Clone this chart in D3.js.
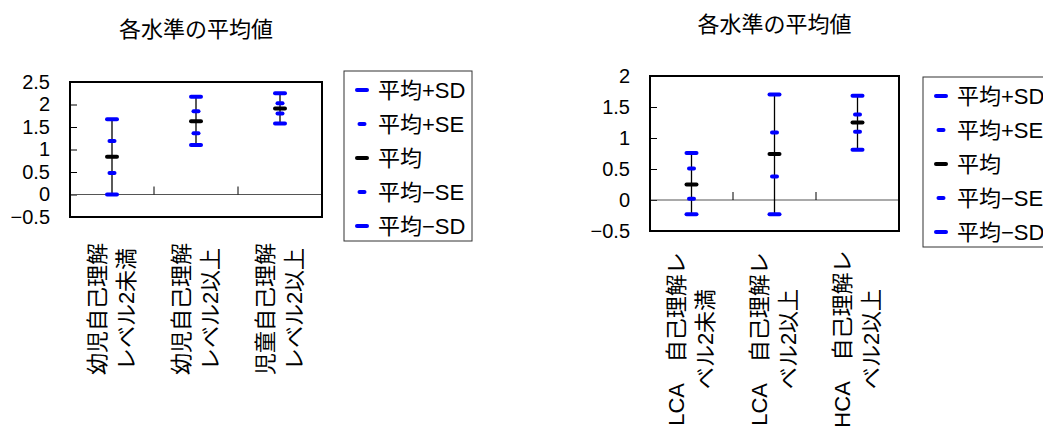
<!DOCTYPE html>
<html>
<head>
<meta charset="utf-8">
<script src="https://cdn.jsdelivr.net/npm/d3@7"></script>
<style>
  body { margin: 0; background: #fff; }
  svg { display: block; font-family: "Liberation Sans", Arial, "Noto Sans CJK JP", sans-serif; }
</style>
</head>
<body>
<div id="chart"></div>
<script>
// ---- data ----
var title = "各水準の平均値";
var legendNames = ["平均+SD", "平均+SE", "平均", "平均−SE", "平均−SD"];

// left chart
var leftCategories = [["幼児自己理解", "レベル2未満"], ["幼児自己理解", "レベル2以上"], ["児童自己理解", "レベル2以上"]];
var leftPlusSD  = [1.67, 2.17, 2.25];
var leftPlusSE  = [1.19, 1.85, 2.03];
var leftMean    = [0.84, 1.63, 1.91];
var leftMinusSE = [0.48, 1.36, 1.80];
var leftMinusSD = [0.00, 1.10, 1.58];
var leftTicks   = [-0.5, 0, 0.5, 1, 1.5, 2, 2.5];

// right chart
var rightCategories = [["LCA\u3000自己理解レ", "ベル2未満"], ["LCA\u3000自己理解レ", "ベル2以上"], ["HCA\u3000自己理解レ", "ベル2以上"]];
var rightPlusSD  = [0.76, 1.70, 1.68];
var rightPlusSE  = [0.51, 1.09, 1.38];
var rightMean    = [0.25, 0.74, 1.25];
var rightMinusSE = [0.02, 0.38, 1.10];
var rightMinusSD = [-0.23, -0.23, 0.81];
var rightTicks   = [-0.5, 0, 0.5, 1, 1.5, 2];

var svg = d3.select("#chart").append("svg")
    .attr("width", 1043)
    .attr("height", 428);

function drawChart(opt) {
    var g = svg.append("g");
    var x = d3.scaleBand().domain(d3.range(opt.categories.length)).range([opt.x0, opt.x1]);
    var y = d3.scaleLinear().domain([opt.ticks[0], opt.ticks[opt.ticks.length - 1]]).range([opt.yb, opt.yt]);

    // title
    g.append("text")
        .attr("x", (opt.x0 + opt.x1) / 2)
        .attr("y", opt.titleY)
        .attr("text-anchor", "middle")
        .attr("dominant-baseline", "central")
        .style("font-size", "22px")
        .text(title);

    // y axis, ticks point inward
    var yAxis = d3.axisLeft(y)
        .tickValues(opt.ticks)
        .tickSize(-7)
        .tickPadding(20)
        .tickFormat(function (d) { return String(d).replace("-", "\u2212"); });
    var ya = g.append("g").attr("transform", "translate(" + opt.x0 + ",0)").call(yAxis);
    ya.select(".domain").remove();
    ya.selectAll("line").attr("stroke", "#000");
    ya.selectAll("text").style("font-size", "20px").style("font-family", "Liberation Sans, Arial, sans-serif").attr("fill", "#000");

    // zero line with category ticks
    g.append("line")
        .attr("x1", opt.x0).attr("x2", opt.x1)
        .attr("y1", y(0)).attr("y2", y(0))
        .attr("stroke", "#555").attr("stroke-width", 1);
    g.selectAll(".ctick")
        .data(d3.range(1, opt.categories.length))
        .enter().append("line")
        .attr("x1", function (d) { return opt.x0 + d * x.step(); })
        .attr("x2", function (d) { return opt.x0 + d * x.step(); })
        .attr("y1", y(0)).attr("y2", y(0) - 8)
        .attr("stroke", "#000");

    // plot frame
    g.append("rect")
        .attr("x", opt.x0).attr("y", opt.yt)
        .attr("width", opt.x1 - opt.x0).attr("height", opt.yb - opt.yt)
        .attr("fill", "none").attr("stroke", "#000").attr("stroke-width", 2);

    // category labels, rotated, two lines each
    opt.categories.forEach(function (lines, i) {
        var cx = x(i) + x.bandwidth() / 2;
        var t = g.append("text")
            .attr("transform", "translate(" + cx + "," + opt.labelY + ") rotate(-90)")
            .attr("text-anchor", "middle")
            .style("font-size", "22px");
        lines.forEach(function (s, j) {
            t.append("tspan")
                .attr("x", 0)
                .attr("y", -15 + j * 29)
                .attr("dominant-baseline", "central")
                .text(s);
        });
    });

    // error bars
    var n = opt.mean.length;
    var bars = d3.range(n);
    g.selectAll(".stem").data(bars).enter().append("line")
        .attr("x1", function (i) { return x(i) + x.bandwidth() / 2; })
        .attr("x2", function (i) { return x(i) + x.bandwidth() / 2; })
        .attr("y1", function (i) { return y(opt.minusSD[i]); })
        .attr("y2", function (i) { return y(opt.plusSD[i]); })
        .attr("stroke", "#000").attr("stroke-width", 1.3);

    var series = [
        { v: opt.plusSD, color: "#0000ff", w: 10 },
        { v: opt.plusSE, color: "#0000ff", w: 5 },
        { v: opt.mean, color: "#000000", w: 10 },
        { v: opt.minusSE, color: "#0000ff", w: 5 },
        { v: opt.minusSD, color: "#0000ff", w: 10 }
    ];
    series.forEach(function (s) {
        g.selectAll(null).data(s.v).enter().append("line")
            .attr("x1", function (d, i) { return x(i) + x.bandwidth() / 2 - s.w / 2; })
            .attr("x2", function (d, i) { return x(i) + x.bandwidth() / 2 + s.w / 2; })
            .attr("y1", function (d) { return y(d); })
            .attr("y2", function (d) { return y(d); })
            .attr("stroke", s.color)
            .attr("stroke-width", 4)
            .attr("stroke-linecap", "round");
    });

    // legend
    var lg = g.append("g").attr("transform", "translate(" + opt.legX + "," + opt.legY + ")");
    lg.append("rect")
        .attr("x", 0).attr("y", 0)
        .attr("width", 128).attr("height", 170)
        .attr("fill", "#fff").attr("stroke", "#333").attr("stroke-width", 1);
    legendNames.forEach(function (name, i) {
        var yy = 19 + i * 34;
        lg.append("line")
            .attr("x1", 18 - series[i].w / 2).attr("x2", 18 + series[i].w / 2)
            .attr("y1", yy).attr("y2", yy)
            .attr("stroke", series[i].color)
            .attr("stroke-width", 4)
            .attr("stroke-linecap", "round");
        lg.append("text")
            .attr("x", 34).attr("y", yy)
            .attr("dominant-baseline", "central")
            .style("font-size", "22px")
            .text(name);
    });
}

drawChart({
    categories: leftCategories, ticks: leftTicks,
    plusSD: leftPlusSD, plusSE: leftPlusSE, mean: leftMean, minusSE: leftMinusSE, minusSD: leftMinusSD,
    x0: 70, x1: 322, yt: 82, yb: 217,
    titleY: 29, labelY: 309, legX: 344, legY: 71
});

drawChart({
    categories: rightCategories, ticks: rightTicks,
    plusSD: rightPlusSD, plusSE: rightPlusSE, mean: rightMean, minusSE: rightMinusSE, minusSD: rightMinusSD,
    x0: 650, x1: 899, yt: 76, yb: 231,
    titleY: 24, labelY: 339, legX: 923, legY: 77
});
</script>
</body>
</html>
